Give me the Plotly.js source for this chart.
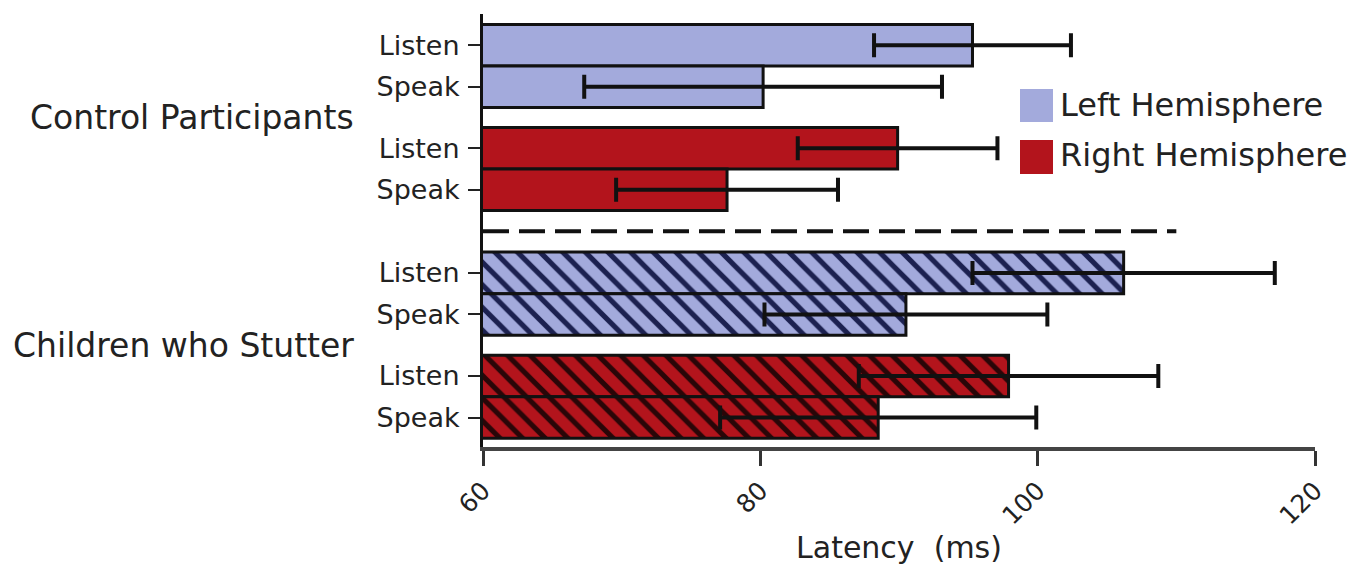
<!DOCTYPE html>
<html><head><meta charset="utf-8">
<script src="https://cdn.plot.ly/plotly-3.0.1.min.js"></script>
<style>html,body{margin:0;padding:0;background:#fff}#chart{width:1370px;height:571px}</style>
</head><body><div id="chart"></div>
<script>
// ---- data ----
const groups = ["Control Participants", "Children who Stutter"];
const hemispheres = ["Left Hemisphere", "Right Hemisphere"];
const tasks = ["Listen", "Speak"];
// mean latency (ms), [Listen, Speak]
const controlLeft = [95.3, 80.2];
const controlLeftErr = [7.1, 12.9];
const controlRight = [89.9, 77.6];
const controlRightErr = [7.2, 8.0];
const cwsLeft = [106.2, 90.5];
const cwsLeftErr = [10.9, 10.2];
const cwsRight = [97.9, 88.5];
const cwsRightErr = [10.8, 11.4];
const xTicks = [60, 80, 100, 120];
const dividerEnd = 110;

// ---- layout helpers ----
const W = 1370, H = 571;
const M = {l: 483, r: 55, t: 14, b: 124};
const plotW = W - M.l - M.r, plotH = H - M.t - M.b;
const GROUP_STEP = 5.48, HEMI_STEP = 2.48;
function slot(g, h, t) { return g * GROUP_STEP + h * HEMI_STEP + t + 0.5; }
const px2paperX = px => (px - M.l) / plotW;
const px2paperY = py => (H - M.b - py) / plotH;

const colors = ["#a3aadc", "#b3141c"];
const hatchColors = ["#1c2150", "#2a0608"];
const series = [
  {g: 0, h: 0, x: controlLeft, e: controlLeftErr},
  {g: 0, h: 1, x: controlRight, e: controlRightErr},
  {g: 1, h: 0, x: cwsLeft, e: cwsLeftErr},
  {g: 1, h: 1, x: cwsRight, e: cwsRightErr}
];

const traces = series.map(s => ({
  type: "bar",
  orientation: "h",
  name: hemispheres[s.h] + " – " + groups[s.g],
  x: s.x,
  y: tasks.map((t, i) => slot(s.g, s.h, i)),
  width: 1,
  marker: {
    color: colors[s.h],
    line: {color: "#111", width: 3},
    pattern: s.g === 1 ? {shape: "\\", fgcolor: hatchColors[s.h], bgcolor: colors[s.h], size: 16, solidity: 0.32, fillmode: "replace"} : {shape: ""}
  },
  error_x: {type: "data", array: s.e, visible: true, color: "#111", thickness: 4, width: 12},
  showlegend: false,
  hoverinfo: "x+name"
}));

const tickvals = [], ticktext = [];
for (let g = 0; g < 2; g++) for (let h = 0; h < 2; h++) tasks.forEach((t, i) => { tickvals.push(slot(g, h, i)); ticktext.push(t); });

const font = "DejaVu Sans, Liberation Sans, Arial, sans-serif";
const annotations = groups.map((gName, g) => ({
  text: gName, xref: "paper", yref: "y", x: px2paperX(356), y: g * GROUP_STEP + (HEMI_STEP + 2) / 2,
  xanchor: "right", yanchor: "middle", showarrow: false,
  font: {family: font, size: 33, color: "#222"}
}));
const legendSwatch = [{top: 89, bottom: 122, label: 105}, {top: 140, bottom: 174, label: 155}];
const shapes = [{
  type: "line", xref: "x", yref: "y", x0: 60, x1: dividerEnd,
  y0: GROUP_STEP - 0.5, y1: GROUP_STEP - 0.5,
  line: {color: "#111", width: 4, dash: "26px,10px"}
}];
hemispheres.forEach((hn, h) => {
  const sw = legendSwatch[h];
  shapes.push({type: "rect", xref: "paper", yref: "paper",
    x0: px2paperX(1020), x1: px2paperX(1053), y0: px2paperY(sw.bottom), y1: px2paperY(sw.top),
    fillcolor: colors[h], line: {width: 0}});
  annotations.push({text: hn, xref: "paper", yref: "paper", x: px2paperX(1058), y: px2paperY(sw.label),
    xanchor: "left", yanchor: "middle", showarrow: false,
    font: {family: font, size: 32, color: "#222"}});
});

const layout = {
  width: W, height: H,
  margin: M,
  paper_bgcolor: "#fff", plot_bgcolor: "#fff",
  font: {family: font, color: "#222"},
  barmode: "overlay",
  xaxis: {
    range: [60, 120], tickvals: xTicks, ticktext: xTicks.map(String),
    tickangle: -45, ticks: "outside", ticklen: 15, tickwidth: 3, tickcolor: "#333",
    showline: true, linewidth: 4, linecolor: "#444", showgrid: false, zeroline: false,
    tickfont: {family: font, size: 25, color: "#222"},
    title: {text: "Latency\u00a0\u00a0(ms)", font: {family: font, size: 30, color: "#222"}, standoff: 8}
  },
  yaxis: {
    range: [10.17, -0.25], tickvals: tickvals, ticktext: ticktext,
    ticks: "outside", ticklen: 12, tickwidth: 2, tickcolor: "#222", ticklabelstandoff: 3,
    showline: true, linewidth: 3, linecolor: "#111", showgrid: false, zeroline: false,
    tickfont: {family: font, size: 27, color: "#222"}
  },
  shapes: shapes,
  annotations: annotations,
  showlegend: false
};

Plotly.newPlot("chart", traces, layout, {displayModeBar: false, staticPlot: true});
</script>
</body></html>
